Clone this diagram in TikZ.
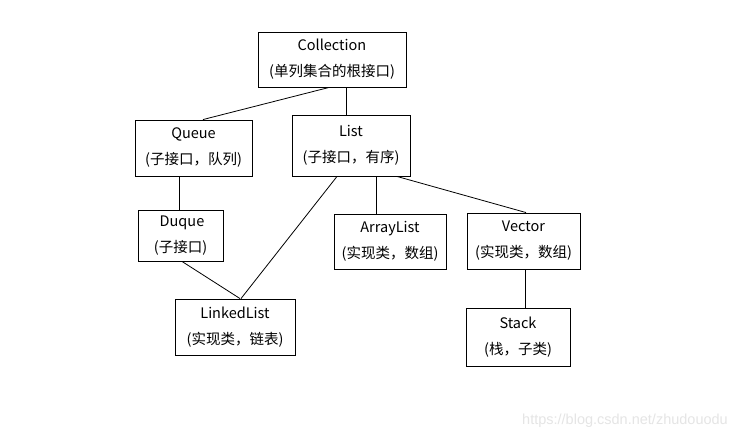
\documentclass[tikz,border=0pt]{standalone}
\usepackage{fontspec}
\setmainfont{Noto Sans CJK SC}
\newfontfamily\wmfont{Liberation Sans}
\begin{document}
\begin{tikzpicture}[x=1pt,y=-1pt,
  box/.style={draw=black,line width=0.9pt,rectangle,inner sep=0pt,align=center,
    font=\fontsize{14.5}{26}\selectfont,text=black},
  link/.style={draw=black,line width=0.8pt}]
\useasboundingbox[fill=white] (0,0) rectangle (748,440);
\node[box,minimum width=148pt,minimum height=55pt] (coll) at (332,59.5) {Collection\\(单列集合的根接口)};
\node[box,minimum width=117pt,minimum height=56pt] (queue) at (193.5,148) {Queue\\(子接口，队列)};
\node[box,minimum width=118pt,minimum height=61pt] (list) at (351,145.5) {List\\(子接口，有序)};
\node[box,minimum width=85pt,minimum height=51pt] (duque) at (180.5,235.5) {\hspace*{3pt}Duque\\(子接口)};
\node[box,minimum width=112pt,minimum height=55pt] (array) at (390,241.5) {ArrayList\\(实现类，数组)};
\node[box,minimum width=113pt,minimum height=56pt] (vector) at (523.5,241) {Vector\\(实现类，数组)};
\node[box,minimum width=120pt,minimum height=56pt] (linked) at (235,327) {LinkedList\\(实现类，链表)};
\node[box,minimum width=104pt,minimum height=58pt] (stack) at (518,337) {Stack\\(栈，子类)};
\draw[link] ([xshift=14pt]coll.south) -- ([xshift=-5pt]list.north);
\draw[link] ([xshift=-3pt]coll.south) -- ([xshift=9.5pt]queue.north);
\draw[link] ([xshift=-14.5pt]queue.south) -- ([xshift=-1.5pt]duque.north);
\draw[link] ([xshift=1.5pt]duque.south) -- ([xshift=5pt]linked.north);
\draw[link] ([xshift=-14pt]list.south) -- ([xshift=6pt]linked.north);
\draw[link] ([xshift=25pt]list.south) -- ([xshift=-14pt]array.north);
\draw[link] ([xshift=46pt]list.south) -- ([xshift=2.5pt]vector.north);
\draw[link] ([xshift=1.5pt]vector.south) -- ([xshift=7pt]stack.north);
\node[text=black!10,font=\fontsize{14.5}{16}\selectfont\wmfont,inner sep=0pt] (wm) at (625,421) {https://blog.csdn.net/zhudouodu};
\end{tikzpicture}
\end{document}
